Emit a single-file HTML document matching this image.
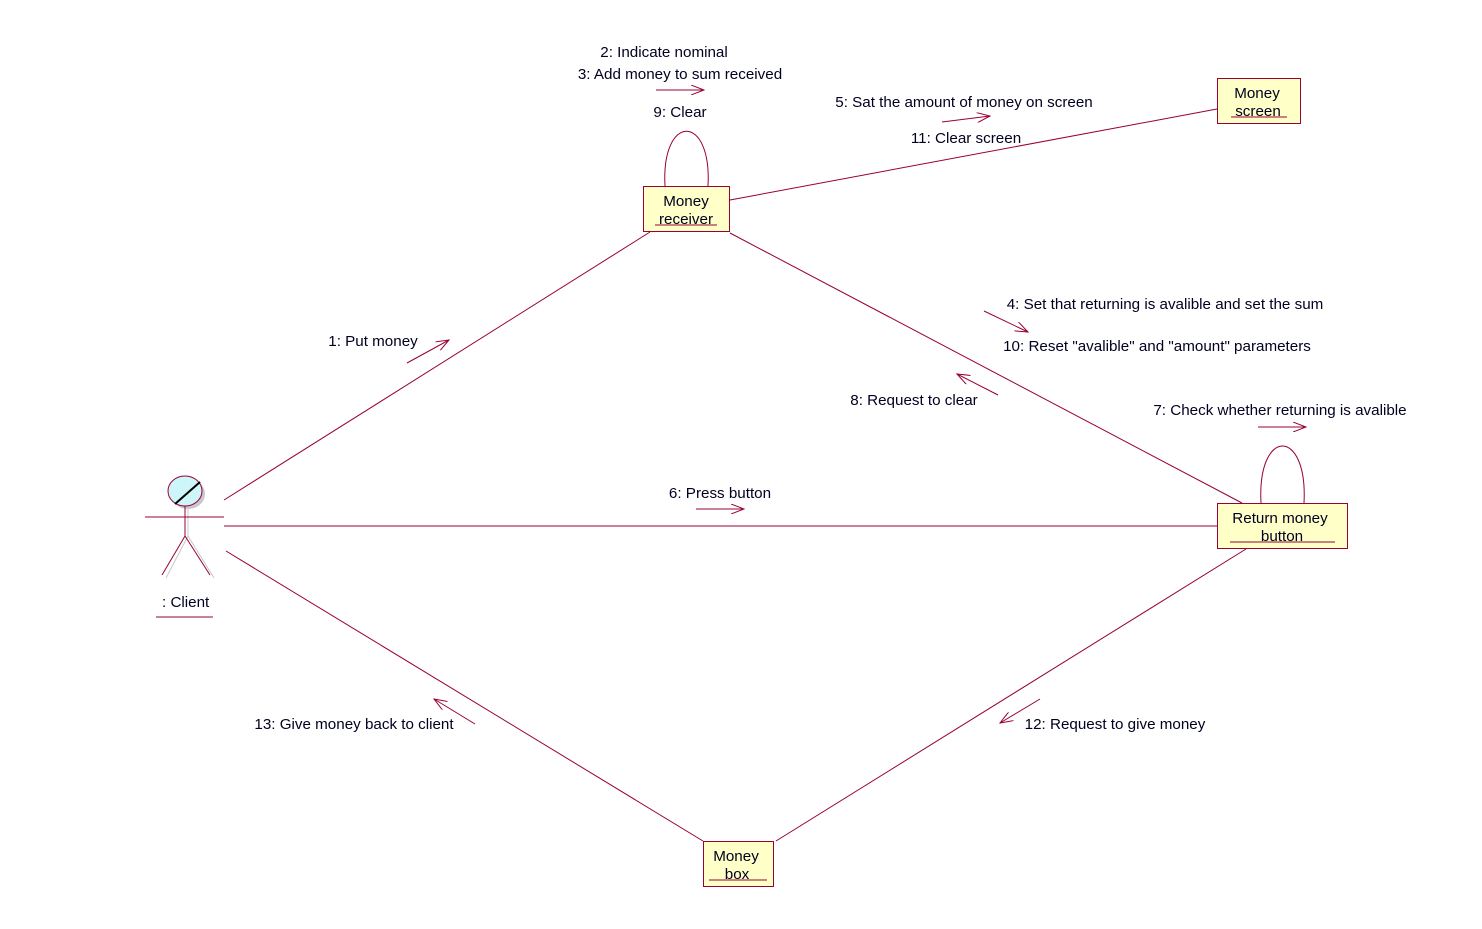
<!DOCTYPE html>
<html><head><meta charset="utf-8"><style>
html,body{margin:0;padding:0;background:#fff;}
svg{display:block;}
text{font-family:"Liberation Sans",sans-serif;font-size:15.2px;fill:#000020;}
</style></head><body>
<svg width="1482" height="929" viewBox="0 0 1482 929" xmlns="http://www.w3.org/2000/svg">
<defs>
<marker id="a" markerWidth="14" markerHeight="10" refX="13" refY="5" orient="auto" markerUnits="userSpaceOnUse">
<path d="M0,0 L13,5 L0,10" fill="none" stroke="#990033" stroke-width="1"/>
</marker>
</defs>
<g stroke="#990033" stroke-width="1" fill="none">
<line x1="224" y1="500" x2="650" y2="232"/>
<line x1="730" y1="200" x2="1217" y2="109"/>
<line x1="730" y1="233" x2="1242" y2="503"/>
<line x1="224" y1="526" x2="1217" y2="526"/>
<line x1="226" y1="551" x2="703" y2="841"/>
<line x1="1246" y1="549" x2="776" y2="841"/>
<path d="M665,186 C661,113 712,113 708,186"/>
<path d="M1261,503 C1257,427 1308,427 1304,503"/>
<line x1="656" y1="90" x2="704" y2="90" marker-end="url(#a)"/>
<line x1="942" y1="122" x2="990" y2="116" marker-end="url(#a)"/>
<line x1="984" y1="311" x2="1028" y2="332" marker-end="url(#a)"/>
<line x1="407" y1="363" x2="449" y2="340" marker-end="url(#a)"/>
<line x1="998" y1="395" x2="957" y2="374" marker-end="url(#a)"/>
<line x1="1258" y1="427" x2="1306" y2="427" marker-end="url(#a)"/>
<line x1="696" y1="509" x2="744" y2="509" marker-end="url(#a)"/>
<line x1="475" y1="724" x2="434" y2="699" marker-end="url(#a)"/>
<line x1="1040" y1="699" x2="1000" y2="723" marker-end="url(#a)"/>
</g>
<g fill="none">
<ellipse cx="188" cy="494" rx="17" ry="15" fill="#c8c8c8"/>
<line x1="188" y1="509" x2="188" y2="536" stroke="#c8c8c8"/>
<line x1="188" y1="536" x2="166" y2="578" stroke="#c8c8c8"/>
<line x1="188" y1="536" x2="214" y2="578" stroke="#c8c8c8"/>
<ellipse cx="185" cy="491" rx="17" ry="15" fill="#ccf6fa" stroke="#990033"/>
<line x1="175" y1="504" x2="200" y2="482" stroke="#000" stroke-width="2"/>
<line x1="145" y1="517" x2="224" y2="517" stroke="#990033"/>
<line x1="185" y1="506" x2="185" y2="536" stroke="#990033"/>
<line x1="185" y1="536" x2="162" y2="575" stroke="#990033"/>
<line x1="185" y1="536" x2="210" y2="575" stroke="#990033"/>
<line x1="156" y1="617" x2="213" y2="617" stroke="#990033"/>
</g>
<text x="162" y="607">: Client</text>
<g fill="#ffffc8" stroke="#990033">
<rect x="643.5" y="186.5" width="86" height="45"/>
<rect x="1217.5" y="78.5" width="83" height="45"/>
<rect x="1217.5" y="503.5" width="130" height="45"/>
<rect x="703.5" y="841.5" width="70" height="45"/>
</g>
<g stroke="#990033">
<line x1="655" y1="225" x2="717" y2="225"/>
<line x1="1231" y1="117" x2="1287" y2="117"/>
<line x1="1230" y1="542" x2="1335" y2="542"/>
<line x1="709" y1="880" x2="767" y2="880"/>
</g>
<text x="686" y="206" text-anchor="middle">Money</text>
<text x="686" y="224" text-anchor="middle">receiver</text>
<text x="1257" y="98" text-anchor="middle">Money</text>
<text x="1258" y="116" text-anchor="middle">screen</text>
<text x="1280" y="523" text-anchor="middle">Return money</text>
<text x="1282" y="541" text-anchor="middle">button</text>
<text x="736" y="861" text-anchor="middle">Money</text>
<text x="737" y="879" text-anchor="middle">box</text>
<text x="664" y="57" text-anchor="middle">2: Indicate nominal</text>
<text x="680" y="79" text-anchor="middle">3: Add money to sum received</text>
<text x="680" y="117" text-anchor="middle">9: Clear</text>
<text x="964" y="107" text-anchor="middle">5: Sat the amount of money on screen</text>
<text x="966" y="143" text-anchor="middle">11: Clear screen</text>
<text x="1165" y="309" text-anchor="middle">4: Set that returning is avalible and set the sum</text>
<text x="1157" y="351" text-anchor="middle">10: Reset "avalible" and "amount" parameters</text>
<text x="914" y="405" text-anchor="middle">8: Request to clear</text>
<text x="1280" y="415" text-anchor="middle">7: Check whether returning is avalible</text>
<text x="373" y="346" text-anchor="middle">1: Put money</text>
<text x="720" y="498" text-anchor="middle">6: Press button</text>
<text x="354" y="729" text-anchor="middle">13: Give money back to client</text>
<text x="1115" y="729" text-anchor="middle">12: Request to give money</text>
</svg>
</body></html>
